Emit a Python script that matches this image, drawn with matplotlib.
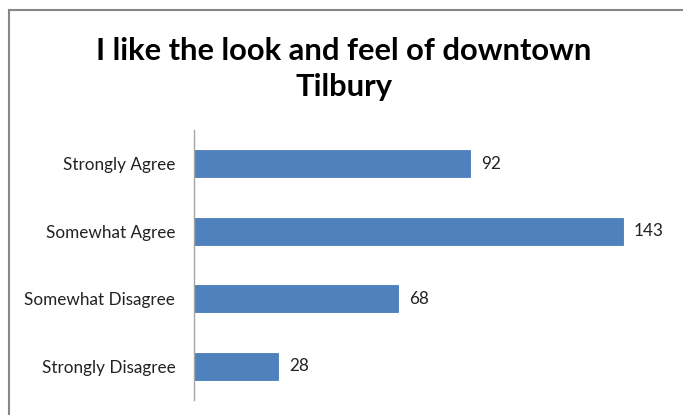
import matplotlib
matplotlib.use("Agg")
import matplotlib.pyplot as plt
from matplotlib.lines import Line2D

categories = ["Strongly Agree", "Somewhat Agree", "Somewhat Disagree", "Strongly Disagree"]
values = [92, 143, 68, 28]
title = "I like the look and feel of downtown\nTilbury"

W, H = 683, 415
fig = plt.figure(figsize=(W / 100, H / 100), dpi=100)
fig.patch.set_facecolor("white")

# outer chart border (clipped by screenshot at right & bottom)
fig.add_artist(Line2D([9 / W, 9 / W], [0, 1 - 10 / H], transform=fig.transFigure,
                      color="#868686", lw=1.5))
fig.add_artist(Line2D([9 / W, 1], [1 - 10 / H, 1 - 10 / H], transform=fig.transFigure,
                      color="#868686", lw=1.5))

left, right = 194 / W, 674 / W
bottom, top = 1 - 400 / H, 1 - 130 / H
ax = fig.add_axes([left, bottom, right - left, top - bottom])

ypos = list(range(len(categories)))
ax.barh(ypos, values, height=0.4, color="#4F81BD", edgecolor="#4A7EBB", lw=0.6)
ax.set_xlim(0, 160)
ax.set_ylim(len(categories) - 0.5, -0.5)
ax.set_yticks(ypos)
ax.set_yticklabels(categories, fontsize=12.3, family="Lato", color="#222222")
ax.tick_params(axis="y", length=0, pad=13.5)
ax.set_xticks([])
for s in ["top", "right", "bottom"]:
    ax.spines[s].set_visible(False)
ax.spines["left"].set_color("#A6A6A6")
ax.spines["left"].set_linewidth(1.0)

for y, v in zip(ypos, values):
    ax.text(v + 3.7, y, str(v), va="center", ha="left", fontsize=12.3,
            family="Lato", color="#222222")

fig.text(344 / W, 1 - 69 / H, title, ha="center", va="center", fontsize=22.2,
         fontweight="bold", family="Lato", linespacing=1.38, color="black")

fig.savefig("out.png", dpi=100)
